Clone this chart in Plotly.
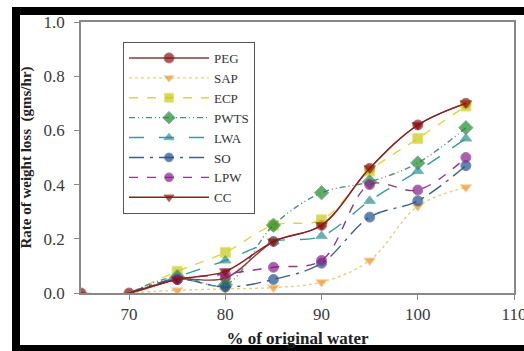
import plotly.graph_objects as go

x_peg = [65, 70, 75, 80, 85, 90, 95, 100, 105]
x_all = [70, 75, 80, 85, 90, 95, 100, 105]

peg = [0.0, 0.0, 0.05, 0.055, 0.19, 0.25, 0.46, 0.62, 0.70]
sap = [0.0, 0.01, 0.015, 0.02, 0.04, 0.12, 0.32, 0.39]
ecp = [0.0, 0.08, 0.15, 0.25, 0.27, 0.45, 0.57, 0.69]
pwts = [0.0, 0.06, 0.03, 0.25, 0.37, 0.41, 0.48, 0.61]
lwa = [0.0, 0.06, 0.12, 0.19, 0.21, 0.34, 0.45, 0.57]
so = [0.0, 0.05, 0.022, 0.05, 0.11, 0.28, 0.34, 0.47]
lpw = [0.0, 0.05, 0.07, 0.095, 0.12, 0.40, 0.38, 0.50]
cc = [0.0, 0.05, 0.08, 0.19, 0.25, 0.46, 0.62, 0.70]

series = [
    ("PEG", x_peg, peg, "#8B1010", "#8B3A3A", "solid", "circle"),
    ("SAP", x_all, sap, "#F28C28", "#E8D080", "dot", "triangle-down"),
    ("ECP", x_all, ecp, "#C8C810", "#D8D840", "dash", "square"),
    ("PWTS", x_all, pwts, "#1E8B2A", "#4F8F7F", "6px,3px,1px,3px,1px,3px", "diamond"),
    ("LWA", x_all, lwa, "#2A9090", "#3A9A9A", "longdash", "triangle-up"),
    ("SO", x_all, so, "#1F4F8F", "#3F5F8F", "longdashdot", "circle"),
    ("LPW", x_all, lpw, "#8B1A8B", "#8B3A8B", "dash", "circle"),
    ("CC", x_all, cc, "#8B0A0A", "#8B2020", "solid", "triangle-down"),
]

fig = go.Figure()
for name, xs, ys, mcol, lcol, dash, sym in series:
    base = 11 if sym == "diamond" else 10
    sizes = [base] * len(xs)
    if name != "PEG":
        sizes[0] = 0  # start point hidden under PEG marker in original
    fig.add_trace(go.Scatter(
        x=xs, y=ys, name=name, mode="lines+markers",
        line=dict(color=lcol, width=1.4, dash=dash, shape="spline", smoothing=1.0),
        marker=dict(color=mcol, size=sizes, symbol=sym),
    ))

W, H = 524, 351
L, R, T, B = 81, 514, 22, 293

def px2paper(px, py):
    return (px - L) / (R - L), (B - py) / (B - T)

# outer black frame of the original image (left, top, bottom bands)
fl, ft = px2paper(16, 11)
fr, fb = px2paper(540, 349)
frame = dict(type="line", xref="paper", yref="paper", line=dict(color="black", width=8), layer="above")
shapes = [
    dict(frame, x0=fl, x1=fl, y0=fb, y1=ft),
    dict(frame, x0=px2paper(12, 0)[0], x1=fr, y0=ft, y1=ft),
    dict(frame, x0=px2paper(12, 0)[0], x1=fr, y0=fb, y1=fb),
]

fig.update_layout(
    width=W, height=H,
    margin=dict(l=L, r=W - R, t=T, b=H - B, autoexpand=False),
    paper_bgcolor="white", plot_bgcolor="white",
    font=dict(family="Liberation Serif", color="#333333"),
    showlegend=True,
    legend=dict(
        x=px2paper(123, 0)[0], y=px2paper(0, 42)[1], xanchor="left", yanchor="top",
        bgcolor="white", bordercolor="#555555", borderwidth=1,
        font=dict(family="Liberation Serif", size=13, color="#333333"),
        itemwidth=80, tracegroupgap=0,
    ),
    xaxis=dict(
        range=[65, 110], tickvals=[70, 80, 90, 100, 110], showgrid=False, zeroline=False,
        showline=True, linecolor="#888888", linewidth=1.5, mirror=True, automargin=False,
        ticks="outside", ticklen=5, tickcolor="#888888", ticklabeloverflow="allow",
        tickfont=dict(size=17, family="Liberation Serif", color="#3a3a3a"),
        title=dict(text="<b>% of original water</b>", standoff=9,
                   font=dict(size=17, family="Liberation Serif", color="#222222")),
    ),
    yaxis=dict(
        range=[0, 1.0], dtick=0.2, tickformat=".1f", showgrid=False, zeroline=False,
        showline=True, linecolor="#888888", linewidth=1.5, mirror=True, automargin=False,
        ticks="outside", ticklen=5, tickcolor="#888888", ticklabelstandoff=6,
        tickfont=dict(size=17, family="Liberation Serif", color="#3a3a3a"),
        title=dict(text="<b>Rate of weight loss &nbsp;(gms/hr)</b>", standoff=8,
                   font=dict(size=15, family="Liberation Serif", color="#222222")),
    ),
    shapes=shapes,
)

fig.write_html("out.html")
